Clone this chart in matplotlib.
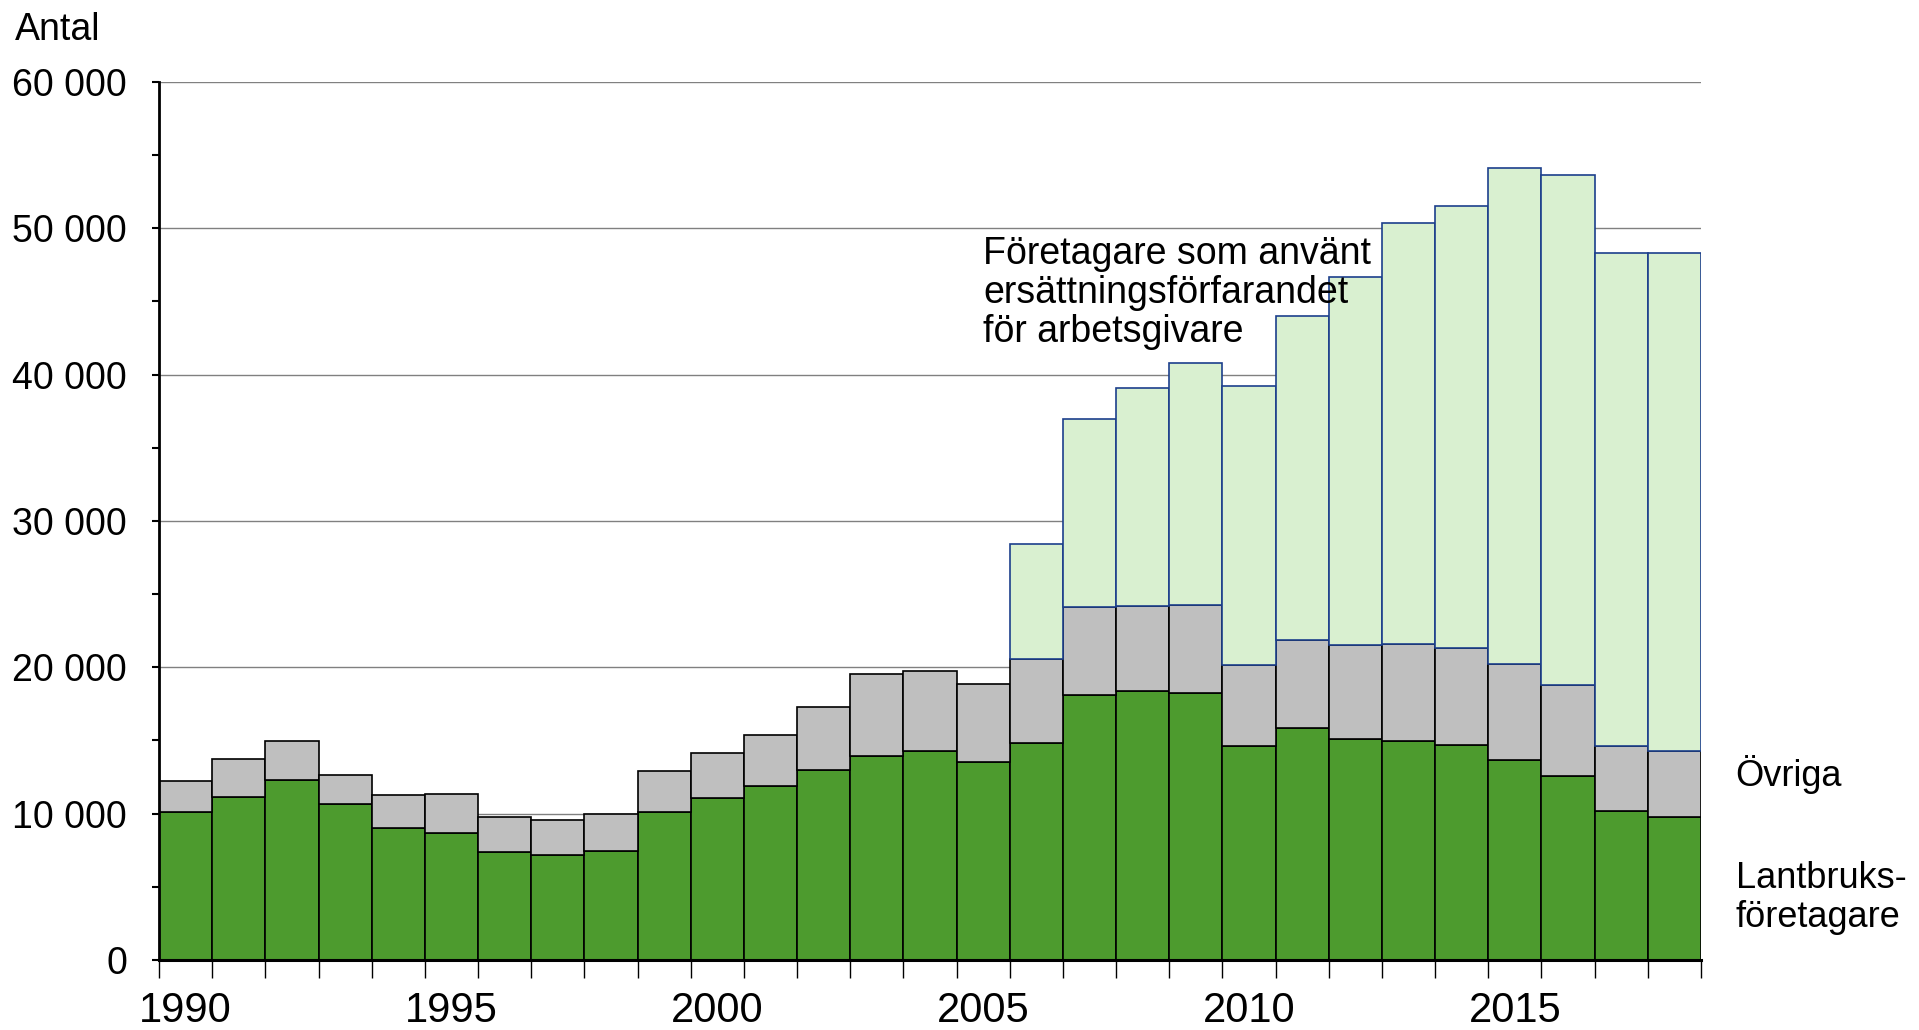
import numpy as np
import matplotlib.pyplot as plt
from matplotlib.ticker import FuncFormatter, MultipleLocator

plt.rcParams['font.family'] = ['Liberation Sans', 'DejaVu Sans']

years = np.arange(1990, 2019)

# Lantbruksföretagare
lantbruk = [10100, 11150, 12280, 10680, 9040, 8680, 7400, 7150, 7470, 10090,
            11070, 11870, 12980, 13960, 14260, 13540, 14860, 18080, 18360, 18240,
            14610, 15880, 15070, 14980, 14690, 13660, 12560, 10160, 9750]

# Övriga
ovriga = [2140, 2550, 2700, 1970, 2240, 2640, 2370, 2420, 2480, 2830,
          3080, 3520, 4340, 5580, 5510, 5330, 5740, 6020, 5830, 6000,
          5580, 5970, 6440, 6640, 6600, 6560, 6260, 4480, 4540]

# Företagare som använt ersättningsförfarandet (från 2006)
ers_years = np.arange(2006, 2019)
ersattning = [7800, 12900, 14920, 16540, 19060, 22130, 25170, 28720, 30240,
              33920, 34790, 33690, 34040]

GREEN = '#4d9b2e'
GREY = '#bfbfbf'
LIGHT = '#d9f0d0'
BLUE = '#1c3f8c'

fig = plt.figure(figsize=(19.19, 10.30), dpi=100)
ax = fig.add_axes([0.0829, 0.068, 0.8035, 0.8524])

lantbruk = np.array(lantbruk)
ovriga = np.array(ovriga)
stack = lantbruk + ovriga
base_ers = stack[years >= 2006]

ax.bar(years, lantbruk, width=1.0, color=GREEN, edgecolor='black', linewidth=1.2, zorder=2)
ax.bar(years, ovriga, width=1.0, bottom=lantbruk, color=GREY, edgecolor='black', linewidth=1.2, zorder=2)
ax.bar(ers_years, ersattning, width=1.0, bottom=base_ers, color=LIGHT, edgecolor=BLUE, linewidth=1.2, zorder=3)

ax.set_xlim(1989.5, 2018.5)
ax.set_ylim(0, 60000)

# y-axis
ax.yaxis.set_major_locator(MultipleLocator(10000))
ax.yaxis.set_minor_locator(MultipleLocator(5000))
ax.yaxis.set_major_formatter(FuncFormatter(lambda v, p: f'{int(v):,}'.replace(',', ' ')))
ax.tick_params(axis='y', which='both', direction='out', length=5, width=1.5, labelsize=27, pad=18)
ax.grid(axis='y', which='major', color='#808080', linewidth=1.0)
ax.set_axisbelow(True)

# x-axis: ticks on bar boundaries, labels on bar centres
ax.set_xticks(np.arange(1989.5, 2019.5, 1.0))
ax.set_xticklabels([])
ax.set_xticks(np.arange(1990, 2019, 5), minor=True)
ax.set_xticklabels([str(y) for y in range(1990, 2019, 5)], minor=True)
ax.tick_params(axis='x', which='major', direction='out', length=13, width=1.0)
ax.tick_params(axis='x', which='minor', length=0, labelsize=30, pad=22)

for side in ['top', 'right']:
    ax.spines[side].set_visible(False)
ax.spines['left'].set_linewidth(2)
ax.spines['bottom'].set_linewidth(2.2)
ax.spines['bottom'].set_zorder(4)

fig.text(0.008, 0.971, 'Antal', fontsize=27, va='center', ha='left')

ax.text(2005.0, 49500, 'Företagare som använt\nersättningsförfarandet\nför arbetsgivare',
        fontsize=27, va='top', ha='left', linespacing=1.12)
ax.text(2019.15, 12650, 'Övriga', fontsize=26, va='center', ha='left', clip_on=False)
ax.text(2019.15, 4250, 'Lantbruks-\nföretagare', fontsize=26, va='center', ha='left',
        linespacing=1.15, clip_on=False)

fig.savefig('out.png', dpi=100)
